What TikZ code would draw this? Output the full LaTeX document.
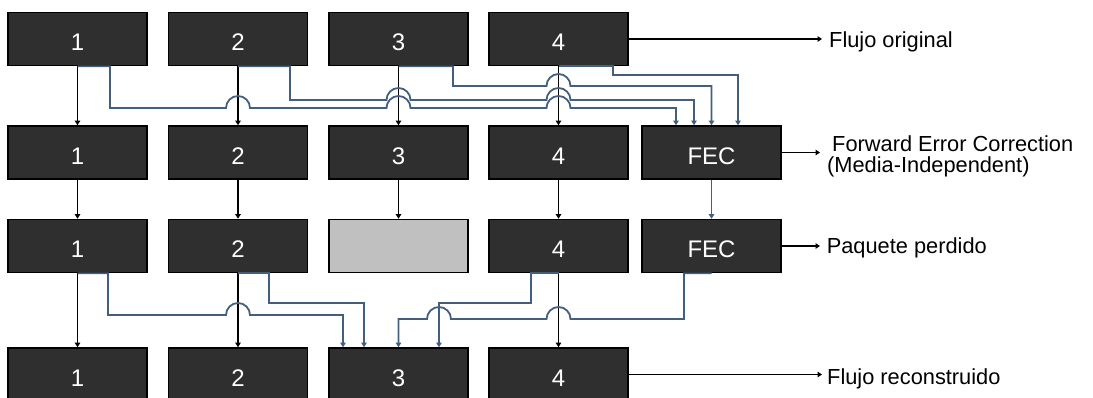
\documentclass[tikz,border=0pt]{standalone}
\usepackage{fontspec}
\setmainfont{Liberation Sans}
\usetikzlibrary{arrows.meta,calc}
\definecolor{pktfill}{RGB}{47,47,47}
\definecolor{lostfill}{RGB}{192,192,192}
\definecolor{fecline}{RGB}{68,95,126}
\begin{document}
\begin{tikzpicture}[x=1pt,y=-1pt,
  pkt/.style={draw=black,line width=1.6pt,fill=pktfill,minimum width=139pt,
    minimum height=53pt,inner sep=0pt,text=white,
    font=\fontsize{24}{24}\selectfont,text height=23.4pt,text depth=0pt},
  lost/.style={pkt,fill=lostfill},
  tip/.tip={Triangle[width=5.5pt,length=4.5pt]},
  flow/.style={draw=black,line width=1.4pt,-tip},
  fec/.style={draw=fecline,line width=1.8pt,-tip},
  lbl/.style={anchor=base west,inner sep=0pt,font=\fontsize{21.8}{21.8}\selectfont}]

\useasboundingbox (0,0) rectangle (1093,398);

% original stream
\node[pkt] (a1) at (77.5,39) {1};
\node[pkt] (a2) at (238,39) {2};
\node[pkt] (a3) at (398.5,39) {3};
\node[pkt] (a4) at (558.5,39) {4};

% stream with FEC packet
\node[pkt] (b1) at (77.5,152.5) {1};
\node[pkt] (b2) at (238,152.5) {2};
\node[pkt] (b3) at (398.5,152.5) {3};
\node[pkt] (b4) at (558.5,152.5) {4};
\node[pkt] (b5) at (711.5,152.5) {FEC};

% received stream, packet 3 lost
\node[pkt]  (c1) at (77.5,246) {1};
\node[pkt]  (c2) at (238,246) {2};
\node[lost] (c3) at (398.5,246) {};
\node[pkt]  (c4) at (558.5,246) {4};
\node[pkt]  (c5) at (711.5,246) {FEC};

% rebuilt stream
\node[pkt] (d1) at (77.5,374.5) {1};
\node[pkt] (d2) at (238,374.5) {2};
\node[pkt] (d3) at (398.5,374.5) {3};
\node[pkt] (d4) at (558.5,374.5) {4};

% straight packet paths
\foreach \i in {1,2,3,4} {
  \draw[flow] (a\i) -- (b\i);
  \draw[flow] (b\i) -- (c\i);
}
\foreach \i in {1,2,4} \draw[flow] (c\i) -- (d\i);
\draw[fec] (b5) -- (c5);

% packets feeding the FEC encoder (hops over crossing lines)
\draw[fec] (a1.south) -| (110,108)
  -- (226,108) arc[start angle=180,end angle=360,radius=12]
  -- (386.5,108) arc[start angle=180,end angle=360,radius=12]
  -- (546.5,108) arc[start angle=180,end angle=360,radius=12]
  -| ([xshift=-35.5pt]b5.north);
\draw[fec] (a2.south) -| (290,100)
  -- (386.5,100) arc[start angle=180,end angle=360,radius=12]
  -- (546.5,100) arc[start angle=180,end angle=360,radius=12]
  -| ([xshift=-17.5pt]b5.north);
\draw[fec] (a3.south) -| (453,86)
  -- (546.5,86) arc[start angle=180,end angle=360,radius=12]
  -| (b5.north);
\draw[fec] (a4.south) -| (613,75) -| ([xshift=26.5pt]b5.north);

% recovery of packet 3
\draw[fec] (c1.south) -| (108,315)
  -- (226,315) arc[start angle=180,end angle=360,radius=12]
  -| ([xshift=-55.5pt]d3.north);
\draw[fec] (c2.south) -| (269,303) -| ([xshift=-34.5pt]d3.north);
\draw[fec] (c4.south) -| (531,303) -| ([xshift=40.5pt]d3.north);
\draw[fec] (c5.south) -| (684,319)
  -- (570.5,319) arc[start angle=0,end angle=-180,radius=12]
  -- (451,319) arc[start angle=0,end angle=-180,radius=12]
  -| (d3.north);

% row captions
\coordinate (e1) at (822,39);
\coordinate (e2) at (820,152.5);
\coordinate (e3) at (820,246);
\coordinate (e4) at (822,374.5);
\draw[flow] (a4.east) -- (e1);
\draw[flow] (b5.east) -- (e2);
\draw[flow] (c5.east) -- (e3);
\draw[flow] (d4.east) -- (e4);

\node[lbl] (t1)  at (829,47.7) {Flujo original};
\node[lbl] (t2a) at (832,152) {Forward Error Correction};
\node[lbl] (t2b) at (827,173) {(Media-Independent)};
\node[lbl] (t3)  at (826.6,254) {Paquete perdido};
\node[lbl] (t4)  at (827,384) {Flujo reconstruido};
\end{tikzpicture}
\end{document}
